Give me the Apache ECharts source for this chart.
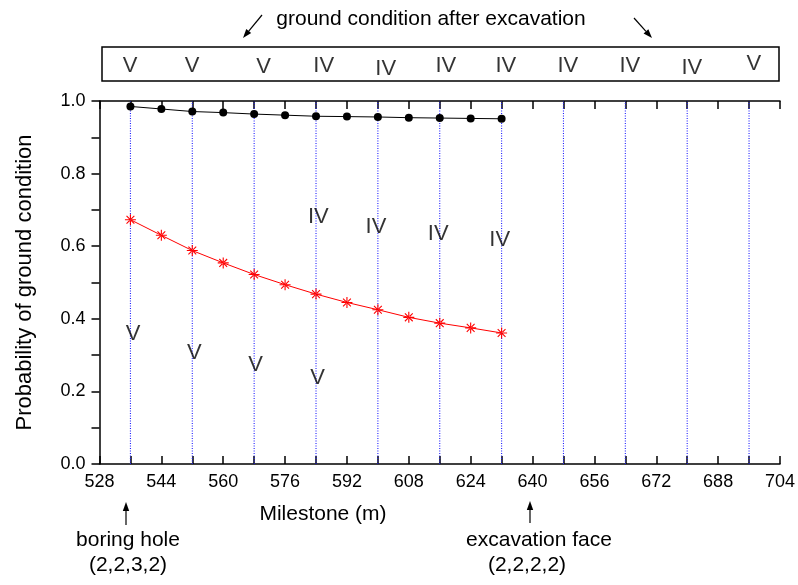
<!DOCTYPE html>
<html lang="en">
<head>
<meta charset="UTF-8">
<title>Probability of ground condition</title>
<script src="https://cdn.jsdelivr.net/npm/echarts@6/dist/echarts.min.js"></script>
<style>
  html, body { margin: 0; padding: 0; background: #fff; }
</style>
</head>
<body>
<div id="chart" style="width:798px;height:585px;"></div>
<script>
  // milestones (m) of the computed points
  const milestones = [536, 544, 552, 560, 568, 576, 584, 592, 600, 608, 616, 624, 632];
  // black circles
  const probCircles = [0.985, 0.978, 0.971, 0.968, 0.964, 0.961, 0.958, 0.957, 0.956, 0.954, 0.953, 0.952, 0.951];
  // red stars
  const probStars = [0.673, 0.630, 0.588, 0.554, 0.522, 0.494, 0.468, 0.445, 0.425, 0.404, 0.388, 0.375, 0.361];
  // dotted guide lines
  const guideLines = [536, 552, 568, 584, 600, 616, 632, 648, 664, 680, 696];

  // roman numerals inside the plot
  const plotLabels = ['V', 'V', 'V', 'V', 'IV', 'IV', 'IV', 'IV'];
  const plotLabelX = [536.7, 552.5, 568.4, 584.4, 584.6, 599.5, 615.6, 631.5];
  const plotLabelY = [0.358, 0.305, 0.273, 0.238, 0.680, 0.653, 0.635, 0.616];

  // ground condition after excavation (box above the plot)
  const boxLabels = ['V', 'V', 'V', 'IV', 'IV', 'IV', 'IV', 'IV', 'IV', 'IV', 'V'];
  const boxLabelX = [536, 552, 570.5, 586, 602, 617.5, 633, 649, 665, 681, 697];
  const boxLabelY = [19, 19, 20, 19, 22, 19, 19, 19, 19, 21, 17];

  const FONT = 'Liberation Sans, Arial, sans-serif';

  // asterisk made of four thin bars
  const starPath = 'path://M-0.5,-5L0.5,-5L0.5,5L-0.5,5Z' +
    'M-5,-0.5L5,-0.5L5,0.5L-5,0.5Z' +
    'M-3.2,-3.9L3.9,3.2L3.2,3.9L-3.9,-3.2Z' +
    'M-3.2,3.9L3.9,-3.2L3.2,-3.9L-3.9,3.2Z';

  function arrow(x1, y1, x2, y2) {
    const dx = x2 - x1, dy = y2 - y1;
    const len = Math.sqrt(dx * dx + dy * dy);
    const ux = dx / len, uy = dy / len;
    const hl = 9, hw = 3.2;
    const bx = x2 - ux * hl, by = y2 - uy * hl;
    return [{
      type: 'line',
      shape: { x1: x1, y1: y1, x2: bx, y2: by },
      style: { stroke: '#000', lineWidth: 1.2 }
    }, {
      type: 'polygon',
      shape: { points: [[x2, y2], [bx - uy * hw, by + ux * hw], [bx + uy * hw, by - ux * hw]] },
      style: { fill: '#000' }
    }];
  }

  function text(str, x, y, size) {
    return {
      type: 'text',
      x: x, y: y,
      style: {
        text: str, fill: '#000', font: size + 'px ' + FONT,
        textAlign: 'center', textVerticalAlign: 'middle'
      }
    };
  }

  // vertical guides as one broken line: bottom, top, gap
  const guideData = [];
  guideLines.forEach(v => { guideData.push([v, 0], [v, 1], [v, '-']); });

  const chart = echarts.init(document.getElementById('chart'));

  const axisLine = { show: true, lineStyle: { color: '#000', width: 1.5 } };

  const option = {
    animation: false,
    backgroundColor: '#fff',
    textStyle: { fontFamily: FONT },
    grid: [
      { left: 99.5, right: 16.5, top: 101, bottom: 121 },
      { left: 102, right: 19, top: 47, height: 34, show: true,
        borderColor: '#000', borderWidth: 1.5, backgroundColor: 'transparent' }
    ],
    xAxis: [{
      gridIndex: 0, type: 'value', min: 528, max: 704, interval: 8,
      axisLine: axisLine,
      axisTick: { inside: true, length: 8, lineStyle: { color: '#000', width: 1.5 } },
      axisLabel: {
        color: '#000', fontSize: 18, margin: 9, fontFamily: FONT,
        formatter: function (v) { return (v - 528) % 16 === 0 ? String(v) : ''; }
      },
      splitLine: { show: false }
    }, {
      gridIndex: 0, type: 'value', position: 'top', min: 528, max: 704, interval: 8,
      axisLine: axisLine,
      axisTick: { inside: true, length: 8, lineStyle: { color: '#000', width: 1.5 } },
      axisLabel: { show: false },
      splitLine: { show: false }
    }, {
      gridIndex: 1, type: 'value', min: 528.77, max: 703.48, show: false
    }],
    yAxis: [{
      gridIndex: 0, type: 'value', min: 0, max: 1, interval: 0.1,
      name: 'Probability of ground condition',
      nameLocation: 'middle', nameGap: 64,
      nameTextStyle: { color: '#000', fontSize: 22, fontFamily: FONT },
      axisLine: axisLine,
      axisTick: { inside: false, length: 8, lineStyle: { color: '#000', width: 1.5 } },
      axisLabel: {
        color: '#000', fontSize: 18, margin: 14, fontFamily: FONT,
        formatter: function (v) { return Math.round(v * 10) % 2 === 0 ? v.toFixed(1) : ''; }
      },
      splitLine: { show: false }
    }, {
      gridIndex: 1, type: 'value', min: 0, max: 34, inverse: true, show: false
    }],
    series: [{
      type: 'line',
      xAxisIndex: 0, yAxisIndex: 0,
      data: guideData,
      showSymbol: false, symbol: 'none',
      connectNulls: false,
      silent: true,
      lineStyle: { color: '#1f1fff', type: [1, 1.5], width: 1.1 },
      z: 2
    }, {
      type: 'line',
      xAxisIndex: 0, yAxisIndex: 0,
      data: milestones.map((m, i) => [m, probCircles[i]]),
      symbol: 'circle', symbolSize: 8,
      lineStyle: { color: '#000', width: 1 },
      itemStyle: { color: '#000' },
      z: 3
    }, {
      type: 'line',
      xAxisIndex: 0, yAxisIndex: 0,
      data: milestones.map((m, i) => [m, probStars[i]]),
      symbol: starPath, symbolSize: 11,
      lineStyle: { color: '#ff0000', width: 1 },
      itemStyle: { color: '#ff0000' },
      z: 3
    }, {
      type: 'scatter',
      xAxisIndex: 0, yAxisIndex: 0,
      symbolSize: 1,
      itemStyle: { color: 'rgba(0,0,0,0)' },
      label: {
        show: true, position: 'inside', color: '#000', fontSize: 22, fontFamily: FONT,
        formatter: p => p.name
      },
      data: plotLabels.map((t, i) => ({ name: t, value: [plotLabelX[i], plotLabelY[i]] })),
      z: 4
    }, {
      type: 'scatter',
      xAxisIndex: 2, yAxisIndex: 1,
      symbolSize: 1,
      itemStyle: { color: 'rgba(0,0,0,0)' },
      label: {
        show: true, position: 'inside', color: '#000', fontSize: 22, fontFamily: FONT,
        formatter: p => p.name
      },
      data: boxLabels.map((t, i) => ({ name: t, value: [boxLabelX[i], boxLabelY[i]] }))
    }],
    graphic: [
      text('ground condition after excavation', 431, 19, 21),
      ...arrow(262, 15, 243, 38),
      ...arrow(634, 18, 652, 38),
      text('Milestone (m)', 323, 514, 21),
      ...arrow(126, 525, 126, 502),
      text('boring hole', 128, 540, 21),
      text('(2,2,3,2)', 128, 565, 21),
      ...arrow(530, 523, 530, 501),
      text('excavation face', 539, 540, 21),
      text('(2,2,2,2)', 527, 565, 21)
    ]
  };

  chart.setOption(option);
</script>
</body>
</html>
